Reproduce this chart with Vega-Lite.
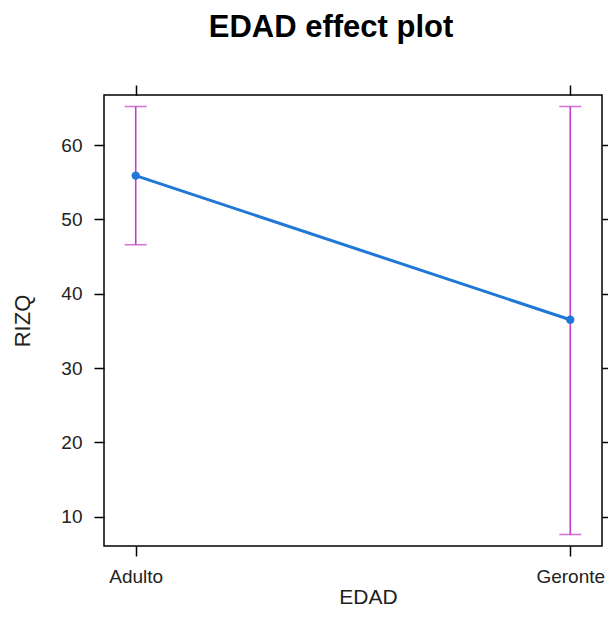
{
  "$schema": "https://vega.github.io/schema/vega-lite/v6.json",
  "autosize": "none",
  "width": 498,
  "height": 451,
  "padding": {"left": 104, "top": 95, "right": 6, "bottom": 88},
  "background": "white",
  "config": {
    "font": "Liberation Sans",
    "view": {"stroke": "black", "strokeWidth": 1.5},
    "axis": {"domain": false, "grid": false, "tickColor": "black", "tickWidth": 1.5, "tickSize": 10, "labelColor": "#222", "titleColor": "#222", "labelFont": "Liberation Sans", "titleFont": "Liberation Sans", "titleFontWeight": "normal"}
  },
  "title": {"text": "EDAD effect plot", "fontSize": 31, "fontWeight": "bold", "font": "Liberation Sans", "anchor": "middle", "dx": -22, "offset": 40, "color": "black"},
  "data": {"values": [
    {"EDAD": "Adulto", "fit": 55.9, "lower": 46.6, "upper": 65.2},
    {"EDAD": "Geronte", "fit": 36.5, "lower": 7.6, "upper": 65.2}
  ]},
  "encoding": {
    "x": {"field": "EDAD", "type": "nominal", "sort": ["Adulto", "Geronte"], "scale": {"type": "point", "padding": 0.073}}
  },
  "layer": [
    {
      "mark": {"type": "rule", "color": "#C23EC6", "strokeWidth": 1.6},
      "encoding": {
        "x": {"field": "EDAD", "type": "nominal", "axis": {"orient": "bottom", "labelAngle": 0, "labelFontSize": 19, "labelPadding": 11, "title": "EDAD", "titleFontSize": 21, "titlePadding": 0, "titleX": 264}},
        "y": {"field": "lower", "type": "quantitative", "scale": {"domain": [6.05, 66.75], "nice": false, "zero": false}, "axis": {"orient": "left", "values": [10, 20, 30, 40, 50, 60], "labelFontSize": 19, "labelPadding": 12, "title": "RIZQ", "titleFontSize": 22, "titlePadding": 26}},
        "y2": {"field": "upper"}
      }
    },
    {
      "mark": {"type": "tick", "orient": "horizontal", "color": "#C23EC6", "size": 22, "thickness": 1.6},
      "encoding": {
        "x": {"field": "EDAD", "type": "nominal", "axis": {"orient": "top", "labels": false, "title": null}},
        "y": {"field": "upper", "type": "quantitative", "axis": {"orient": "right", "values": [10, 20, 30, 40, 50, 60], "labels": false, "title": null}}
      }
    },
    {
      "mark": {"type": "tick", "orient": "horizontal", "color": "#C23EC6", "size": 22, "thickness": 1.6},
      "encoding": {
        "x": {"field": "EDAD", "type": "nominal", "axis": null},
        "y": {"field": "lower", "type": "quantitative", "axis": null}
      }
    },
    {
      "mark": {"type": "line", "color": "#1F78D6", "strokeWidth": 3},
      "encoding": {
        "x": {"field": "EDAD", "type": "nominal", "axis": null},
        "y": {"field": "fit", "type": "quantitative", "axis": null}
      }
    },
    {
      "mark": {"type": "point", "filled": true, "color": "#1F78D6", "size": 70, "opacity": 1},
      "encoding": {
        "x": {"field": "EDAD", "type": "nominal", "axis": null},
        "y": {"field": "fit", "type": "quantitative", "axis": null}
      }
    }
  ],
  "resolve": {"axis": {"x": "independent", "y": "independent"}}
}
